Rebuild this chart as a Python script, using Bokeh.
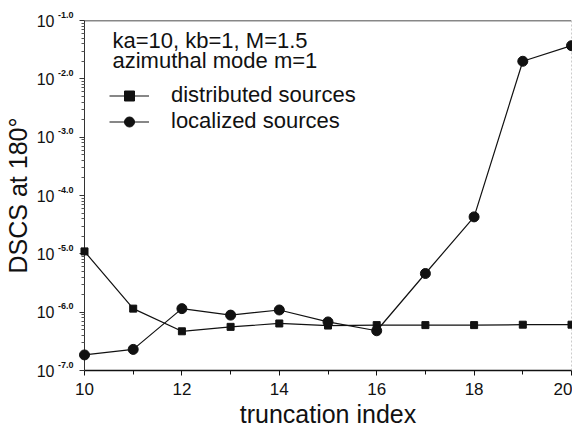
from bokeh.plotting import figure
from bokeh.models import (FixedTicker, Label, Span, Legend, LegendItem,
                          CustomJSTickFormatter, LogAxis)
from bokeh.embed import file_html
from bokeh.resources import INLINE

# ---- data ----
truncation_index = [10, 11, 12, 13, 14, 15, 16, 17, 18, 19, 20]
distributed_sources = [1.1e-5, 1.15e-6, 4.7e-7, 5.6e-7, 6.4e-7, 5.9e-7, 6.0e-7, 6.0e-7, 6.0e-7, 6.1e-7, 6.1e-7]
localized_sources = [1.85e-7, 2.3e-7, 1.15e-6, 8.9e-7, 1.09e-6, 6.8e-7, 4.8e-7, 4.6e-6, 4.3e-5, 2.0e-2, 3.7e-2]

x_tick_values = [10, 12, 14, 16, 18, 20]
x_minor_values = [11, 13, 15, 17, 19]
y_exponents = [-7, -6, -5, -4, -3, -2, -1]
series_names = ["distributed sources", "localized sources"]
annotation_lines = ["ka=10, kb=1, M=1.5", "azimuthal mode m=1"]
x_label = "truncation index"
y_label = "DSCS at 180\u00b0"

FONT = "Liberation Sans"
INK = "#111111"

y_major = [10.0 ** e for e in y_exponents]
y_minor = [k * 10.0 ** e for e in y_exponents[:-1] for k in range(2, 10)]

p = figure(width=572, height=430, x_range=(10, 20), y_range=(1e-7, 1e-1),
           y_axis_type="log", output_backend="svg", toolbar_location=None,
           min_border_left=80, min_border_right=1, min_border_top=20, min_border_bottom=49)
p.outline_line_color = None
p.xgrid.visible = False
p.ygrid.visible = False

# x axis
xa = p.xaxis[0]
xa.ticker = FixedTicker(ticks=x_tick_values, minor_ticks=x_minor_values)
xa.major_label_text_font = FONT
xa.major_label_text_font_size = "17px"
xa.major_label_text_color = INK
xa.major_label_standoff = 7
xa.major_tick_in = 0
xa.major_tick_out = 5
xa.minor_tick_in = 0
xa.minor_tick_out = 4
xa.axis_line_color = INK
xa.axis_line_width = 1.5
xa.major_tick_line_color = INK
xa.minor_tick_line_color = INK
xa.axis_label = x_label
xa.axis_label_text_font = FONT
xa.axis_label_text_font_size = "25px"
xa.axis_label_text_font_style = "normal"
xa.axis_label_text_color = INK
xa.axis_label_standoff = 2

# y axis: ticks only (innermost)
ya = p.yaxis[0]
ya.ticker = FixedTicker(ticks=y_major, minor_ticks=y_minor)
ya.formatter = CustomJSTickFormatter(code="return ''")
ya.major_label_standoff = 0
ya.major_tick_in = 0
ya.major_tick_out = 5
ya.minor_tick_in = 0
ya.minor_tick_out = 3
ya.axis_line_color = "#333333"
ya.major_tick_line_color = "#333333"
ya.minor_tick_line_color = "#555555"

# y axis: exponent superscripts (raised by a trailing empty line)
sup_axis = LogAxis(ticker=FixedTicker(ticks=y_major, minor_ticks=[]),
                   formatter=CustomJSTickFormatter(code="return Math.round(Math.log10(tick)).toFixed(1) + '\\n'"),
                   axis_line_color=None, major_tick_line_color=None, minor_tick_line_color=None,
                   major_tick_out=0, minor_tick_out=0, major_tick_in=0, minor_tick_in=0,
                   major_label_standoff=6, major_label_text_font=FONT,
                   major_label_text_font_size="9px", major_label_text_font_style="bold",
                   major_label_text_color=INK)
p.add_layout(sup_axis, "left")

# y axis: base "10" plus the axis title
base_axis = LogAxis(ticker=FixedTicker(ticks=y_major, minor_ticks=[]),
                    formatter=CustomJSTickFormatter(code="return '10'"),
                    axis_line_color=None, major_tick_line_color=None, minor_tick_line_color=None,
                    major_tick_out=0, minor_tick_out=0, major_tick_in=0, minor_tick_in=0,
                    major_label_standoff=0, major_label_text_font=FONT,
                    major_label_text_font_size="16px", major_label_text_color=INK,
                    axis_label=y_label, axis_label_text_font=FONT, axis_label_text_font_size="25px",
                    axis_label_text_font_style="normal", axis_label_text_color=INK,
                    axis_label_standoff=2)
p.add_layout(base_axis, "left")

# frame edges
p.add_layout(Span(location=1e-1, dimension="width", line_color=INK, line_width=1.5))
p.add_layout(Span(location=20, dimension="height", line_color="#999999", line_width=1, line_dash="2 2"))

# data
l1 = p.line(truncation_index, distributed_sources, line_color=INK, line_width=1.2, level="overlay")
m1 = p.scatter(truncation_index, distributed_sources, marker="square", size=7,
               fill_color=INK, line_color=INK, level="overlay")
l2 = p.line(truncation_index, localized_sources, line_color=INK, line_width=1.2, level="overlay")
m2 = p.scatter(truncation_index, localized_sources, marker="circle", size=10,
               fill_color=INK, line_color=INK, level="overlay")

FRAME_H = 352
legend = Legend(items=[LegendItem(label=series_names[0], renderers=[l1, m1]),
                       LegendItem(label=series_names[1], renderers=[l2, m2])],
                location=(25, FRAME_H - 66 - 50), padding=0, margin=0, spacing=0,
                glyph_width=40, glyph_height=25, label_height=25, label_standoff=22,
                label_text_font=FONT, label_text_font_size="22px", label_text_color=INK,
                border_line_color=None, background_fill_alpha=0)
p.add_layout(legend, "center")

# annotation text
for i, txt in enumerate(annotation_lines):
    p.add_layout(Label(x=28, x_units="screen", y=FRAME_H - 22 - 20 * i, y_units="screen",
                       text=txt, text_align="left", text_baseline="middle",
                       text_font=FONT, text_font_size="22px", text_color=INK))

open("out.html", "w").write(file_html(p, INLINE))
